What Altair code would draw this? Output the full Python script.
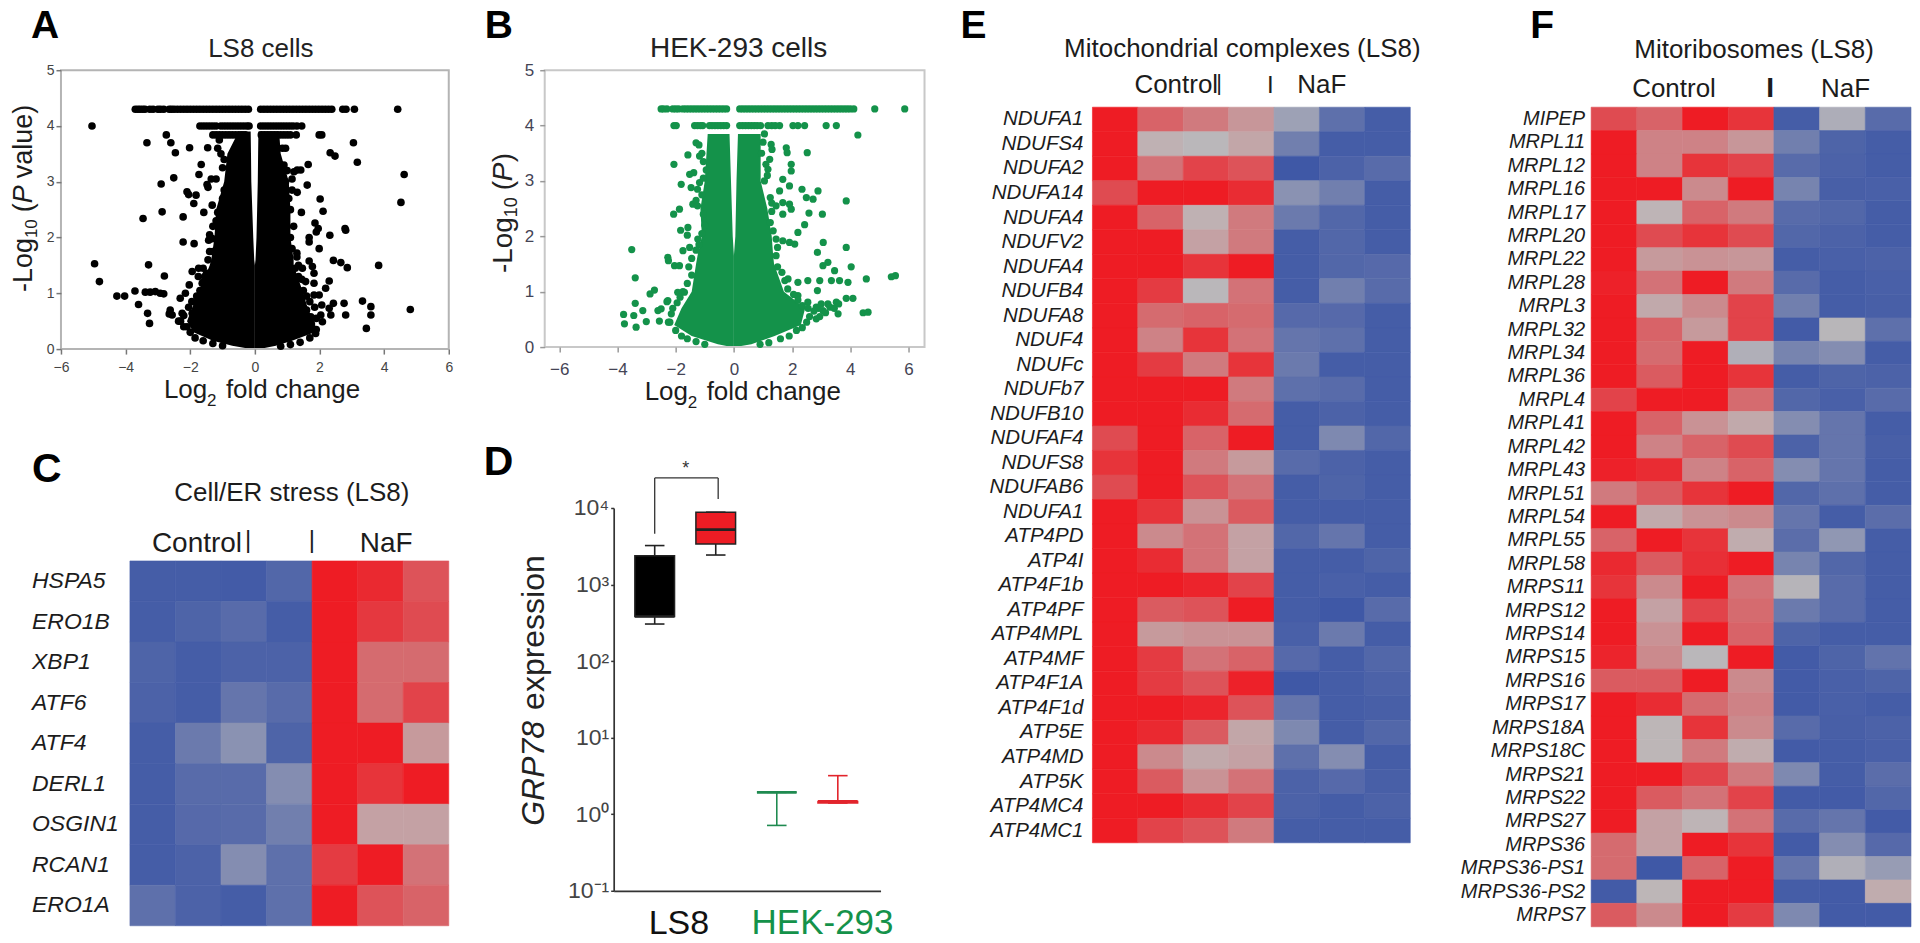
import altair as alt
import pandas as pd

FONT = "Liberation Sans"
TXT = "#1c1c1c"
BLACK = "#000000"
GREEN = "#14924a"
RED = "#ed1c24"

# ---------- Panel A: volcano (LS8) ----------
a_top_x = [-3.7,-3.62,-3.55,-3.47,-3.4,-3.25,-3.15,-3.0,-2.92,-2.82,-2.65,-2.58,-2.5,-2.4,-2.3,-2.2,-2.1,-2.0,-1.9,-1.8,-1.7,-1.6,-1.5,-1.4,-1.3,-1.2,-1.1,-1.0,-0.9,-0.8,-0.7,-0.6,-0.5,-0.4,-0.3,-0.2,
           0.18,0.28,0.38,0.48,0.58,0.68,0.78,0.88,0.98,1.08,1.18,1.28,1.38,1.48,1.58,1.68,1.78,1.88,1.98,2.08,2.18,2.28,2.38,2.72,2.82,3.08,4.42]
a_row4_x = [-5.04,-1.7,-1.6,-1.5,-1.4,-1.3,-1.2,-1.05,-0.95,-0.85,-0.75,-0.65,-0.55,-0.45,-0.35,-0.25,-0.18,
            0.18,0.28,0.38,0.48,0.58,0.68,0.78,0.88,0.98,1.08,1.18,1.3,1.45]
a_row38_x = [-2.74,-1.3,-1.2,-1.1,-1.0,-0.9,-0.8,-0.7,-0.6,-0.5,-0.4,-0.3,0.2,0.3,0.4,0.5,0.6,0.7,0.8,0.9,1.0,1.1,1.28,1.99,2.07]
a_px = [-3.34,-2.6,-2.46,-2.02,-1.46,-1.66,-1.73,-2.51,-2.9,-1.48,-2.1,-2.05,-1.82,-1.89,-1.32,-1.58,-2.87,-3.46,-2.22,-2.22,-1.88,-1.43,-1.32,
        -4.96,-4.81,-3.29,-2.8,-3.71,-4.27,-4.03,-3.39,-3.24,-3.08,-2.93,-2.82,-3.6,-3.32,-3.26,-2.62,-2.65,-2.56,-2.36,-2.31,-2.15,-2.03,-1.94,-1.74,-1.63,-1.48,-1.74,-2.25,-2.1,-1.94,
        -1.1,-1.15,-1.05,-0.95,-1.0,-1.2,-1.35,-1.45,-0.95,-1.0,-1.15,-1.2,-1.3,-1.4,-1.3,-1.4,-1.45,-1.5,-1.6,-1.55,
        3.05,3.17,4.62,4.52,2.33,2.48,1.65,1.62,1.31,1.42,1.21,1.31,2.02,2.11,1.44,1.86,1.96,1.9,2.79,2.81,2.32,1.68,1.68,1.99,2.43,2.66,2.86,3.83,1.68,1.78,1.83,1.47,2.3,2.19,1.83,1.83,1.99,1.57,
        3.33,2.76,3.59,3.59,2.81,4.81,3.45,2.43,2.07,2.3,2.04,2.35,2.09,1.88,1.73,1.78,
        0.85,0.95,0.9,1.0,0.95,1.15,1.15,1.05,1.1,1.2,1.1,1.15,1.3,1.25,1.35,1.3,1.45,1.6,1.7,1.5,
        -1.7,-1.8,-1.95,-2.05,-2.2,-2.3,-2.2,-2.0,-1.85,-1.6,-1.3,-1.0,-1.55,-1.6,-1.75,
        1.5,1.6,1.7,1.85,1.9,1.75,1.9,1.7,1.4,1.1,0.8,1.35,1.45,1.3]
a_py = [3.70,3.70,3.52,3.61,3.61,3.31,3.13,3.07,2.96,2.95,2.82,2.77,2.76,2.61,2.58,2.45,2.46,2.34,2.37,1.92,1.89,1.95,1.98,
        1.53,1.21,1.51,1.31,1.04,0.95,0.95,1.02,1.02,1.03,1.0,0.99,0.8,0.64,0.46,0.7,0.63,0.61,0.5,0.91,1.0,1.15,1.39,1.45,1.18,1.36,0.88,0.64,0.4,0.64,
        3.75,3.6,3.5,3.4,3.25,3.05,3.05,2.9,2.85,2.7,2.45,2.3,2.2,2.05,1.75,1.75,1.6,1.35,1.2,1.1,
        3.70,3.35,3.13,2.63,3.52,3.46,3.31,2.94,3.21,3.21,3.18,2.81,2.69,2.47,2.45,2.26,2.16,2.1,2.16,2.13,2.04,2.0,1.92,1.8,1.59,1.55,1.46,1.5,1.58,1.48,1.36,1.45,1.22,1.09,1.18,0.97,0.97,1.21,
        0.86,0.82,0.76,0.61,0.61,0.71,0.37,0.82,0.79,0.73,0.61,0.61,0.49,0.28,0.58,0.37,
        3.6,3.6,3.3,3.2,3.0,3.05,2.85,2.7,2.5,2.2,2.0,1.8,1.72,1.45,1.3,1.1,0.9,0.7,0.5,0.4,
        1.05,0.95,0.85,0.75,0.6,0.5,0.4,0.3,0.2,0.15,0.1,0.06,1.3,1.45,1.3,
        1.05,0.95,0.85,0.75,0.55,0.45,0.35,0.2,0.12,0.08,0.05,1.5,1.25,1.65]
a_env_y  = [0.02,0.06,0.15,0.3,0.5,0.8,1.0,1.5,1.6,2.0,2.5,3.0,3.5,3.9]
a_env_lo = [-0.3,-0.7,-1.3,-1.9,-2.1,-1.9,-1.75,-1.4,-1.35,-1.25,-1.2,-0.95,-0.85,-0.5]
a_env_li = [0.0,0.0,0.0,0.0,0.0,0.0,0.0,0.0,-0.02,-0.05,-0.08,-0.11,-0.12,-0.13]
a_env_ri = [0.0,0.0,0.0,0.0,0.0,0.0,0.0,0.0,0.02,0.05,0.07,0.09,0.1,0.11]
a_env_ro = [0.3,0.65,1.15,1.85,1.8,1.6,1.5,1.2,1.2,1.1,1.1,1.05,0.8,0.75]

# ---------- Panel B: volcano (HEK-293) ----------
b_top_x = [-2.5,-2.42,-2.3,-2.1,-2.0,-1.9,-1.75,-1.65,-1.55,-1.45,-1.35,-1.25,-1.15,-1.05,-0.95,-0.85,-0.75,-0.65,-0.55,-0.45,-0.35,-0.25,
           0.2,0.3,0.4,0.5,0.6,0.7,0.8,0.9,1.0,1.1,1.2,1.3,1.4,1.5,1.6,1.7,1.8,1.9,2.0,2.1,2.2,2.3,2.4,2.5,2.6,2.7,2.8,2.9,3.0,3.1,3.2,3.3,3.4,3.5,3.6,3.7,3.8,3.9,4.0,4.12,4.84,5.87]
b_row4_x = [-2.06,-1.98,-1.35,-1.25,-1.15,-1.07,-0.84,-0.75,-0.65,-0.55,-0.45,-0.35,-0.25,
            0.2,0.3,0.4,0.5,0.6,0.7,0.8,0.92,1.17,1.3,1.42,1.57,2.03,2.2,2.43,3.17,3.52]
b_px = [4.26,-3.51,-3.39,-2.88,-2.73,-3.39,-3.13,-3.79,-3.44,-3.76,-3.01,-3.36,-2.56,-2.61,-2.5,-2.27,-2.25,-2.04,-1.87,-2.25,-2.27,-1.93,-1.7,-2.06,-1.58,-1.3,-1.18,-1.52,-1.38,-1.81,-1.47,-1.18,-1.87,-2.07,-1.41,-1.83,-1.58,-1.6,-1.24,-1.75,-1.52,
        1.28,1.31,1.8,1.83,2.52,1.97,1.97,1.23,1.17,1.68,1.57,1.91,2.34,2.89,2.49,2.72,3.86,1.68,1.91,1.97,1.68,2.58,3.04,2.43,2.2,3.07,1.68,1.91,2.09,3.86,2.87,3.23,3.06,4.03,3.46,5.41,5.55,4.55,3.35,3.63,3.92,2.54,2.95,2.2,1.86,2.87,3.86,4.09,2.83,3.23,3.52,3.58,4.44,4.61,2.83,2.54,2.2,3.06,
        -1.2,-1.1,-1.05,-0.95,-1.05,-1.25,-1.1,-1.3,-1.25,-1.05,-1.0,-1.1,-1.2,-1.3,-1.45,-1.55,-1.45,-1.6,-1.75,-1.85,-1.95,-2.1,-2.3,-2.15,-2.2,-2.0,-1.8,-1.6,-1.3,-1.0,
        1.0,1.05,0.95,1.1,1.15,1.05,1.25,1.3,1.45,1.3,1.25,1.35,1.45,1.5,1.45,1.5,1.65,1.75,1.85,2.05,2.2,2.35,2.55,2.6,2.5,2.35,2.15,1.9,1.6,1.2,0.9,
        2.75,2.9,3.0,3.15,3.3,3.45,3.6,2.95]
b_py = [3.83,1.76,1.25,0.96,1.03,0.79,0.66,0.59,0.57,0.42,0.46,0.36,0.47,0.66,0.69,1.62,1.56,1.47,1.47,0.45,0.84,0.99,0.99,3.3,3.47,3.69,3.45,3.12,3.15,2.94,2.88,2.97,2.49,2.4,2.58,2.11,2.16,2.02,1.95,1.74,1.8,
        3.66,3.57,3.6,3.51,3.51,3.3,3.18,3.39,3.21,3.03,2.82,2.91,2.85,2.82,2.7,2.67,2.64,2.61,2.58,2.49,2.4,2.42,2.4,2.21,2.07,1.89,1.92,1.89,1.86,1.8,1.71,1.53,1.47,1.45,1.38,1.27,1.29,1.23,1.2,1.2,1.17,1.2,1.2,1.17,1.23,1.02,0.88,0.88,0.72,0.78,0.81,0.6,0.62,0.63,0.51,0.81,0.93,0.66,
        3.65,3.5,3.35,3.2,3.05,2.85,2.75,2.65,2.55,2.4,2.2,2.05,1.85,1.75,1.6,1.45,1.3,1.15,1.0,0.9,0.8,0.7,0.82,0.6,0.45,0.3,0.2,0.15,0.1,0.05,
        3.7,3.85,3.5,3.3,3.1,3.0,2.7,2.6,2.55,2.45,2.25,2.1,1.95,1.8,1.65,1.45,1.35,1.2,1.05,0.95,0.85,0.75,0.7,0.55,0.45,0.35,0.3,0.2,0.15,0.08,0.05,
        0.65,0.7,0.78,0.62,0.72,0.7,0.78,0.55]
b_env_y  = [0.02,0.05,0.2,0.4,0.7,1.0,1.5,1.65,2.0,2.5,3.0,3.85]
b_env_lo = [-0.25,-0.55,-1.45,-2.05,-1.8,-1.45,-1.3,-1.25,-1.1,-1.15,-1.0,-0.9]
b_env_li = [0.0,0.0,0.0,0.0,0.0,0.0,0.0,0.0,-0.04,-0.07,-0.1,-0.15]
b_env_ri = [0.0,0.0,0.0,0.0,0.0,0.0,0.0,0.0,0.05,0.07,0.09,0.14]
b_env_ro = [0.25,0.6,1.4,2.3,2.45,1.72,1.38,1.35,1.3,1.15,0.92,0.92]

# ---------- Panel C ----------
c_genes = ["HSPA5","ERO1B","XBP1","ATF6","ATF4","DERL1","OSGIN1","RCAN1","ERO1A"]
c_vals = [
 [-.95,-.95,-.97,-.85,1,.92,.65],
 [-.95,-.88,-.8,-.95,1,.82,.7],
 [-.88,-.95,-.9,-.9,1,.5,.5],
 [-.9,-.95,-.7,-.8,1,.5,.75],
 [-.95,-.65,-.4,-.88,1,1,.2],
 [-.95,-.8,-.8,-.45,1,.85,1],
 [-.95,-.82,-.8,-.6,1,.15,.15],
 [-.95,-.9,-.45,-.75,.8,1,.45],
 [-.75,-.9,-.95,-.75,1,.65,.55],
]

# ---------- Panel D ----------
d_pos = [1.0, 2.0, 3.0, 4.0]
d_q1 = [382, 3390, 1.93, 1.40]
d_q3 = [2380, 8780, 1.93, 1.47]
d_med = [382, 5210, 1.93, 1.47]
d_lo = [305, 2430, 0.714, 1.40]
d_hi = [3230, 8800, 1.93, 3.19]
d_fill = [BLACK, RED, GREEN, RED]
d_line = ["#222222", "#222222", "#1f8a50", "#e2242c"]
d_ticks = [0.1, 1, 10, 100, 1000, 10000]
d_br_x = [1.0, 2.04]
d_br_y = [4620, 24660, 13120]

# ---------- Panel E ----------
e_genes = ["NDUFA1","NDUFS4","NDUFA2","NDUFA14","NDUFA4","NDUFV2","NDUFA4","NDUFB4","NDUFA8","NDUF4","NDUFc","NDUFb7","NDUFB10","NDUFAF4","NDUFS8","NDUFAB6","NDUFA1","ATP4PD","ATP4I","ATP4F1b","ATP4PF","ATP4MPL","ATP4MF","ATP4F1A","ATP4F1d","ATP5E","ATP4MD","ATP5K","ATP4MC4","ATP4MC1"]
e_vals = [
 [1,.55,.4,.22,-.25,-.75,-.95],
 [1,.05,-.02,.12,-.6,-.95,-.95],
 [1,.45,.75,.65,-1,-.9,-.8],
 [.7,1,1,.9,-.4,-.6,-.95],
 [1,.55,.05,.4,-.65,-.85,-.95],
 [1,1,.15,.4,-.95,-.85,-.95],
 [1,1,.85,1,-.95,-.85,-.82],
 [1,.8,-.02,.45,-.95,-.6,-.8],
 [1,.5,.55,.5,-.82,-.82,-.95],
 [1,.35,.85,.45,-.7,-.75,-.95],
 [1,.8,.4,.85,-.65,-.95,-.95],
 [1,1,1,.4,-.75,-.8,-.95],
 [1,1,.9,.5,-.95,-.9,-.95],
 [.7,1,.55,1,-.95,-.5,-.85],
 [.85,1,.4,.2,-.8,-.9,-.95],
 [.7,1,.65,.45,-.95,-.88,-.95],
 [1,.85,.25,.6,-.95,-.95,-.95],
 [1,.3,.45,.15,-.85,-.7,-.95],
 [1,.9,.45,.15,-.95,-.95,-.88],
 [1,1,.95,.75,-.95,-.92,-.95],
 [1,.6,.65,1,-.95,-1,-.8],
 [1,.2,.25,.25,-.92,-.65,-.95],
 [1,.8,.45,.55,-.82,-.95,-.85],
 [1,.8,.65,.97,-1,-.95,-.9],
 [1,1,.95,.65,-.7,-.95,-.93],
 [1,.92,.6,.12,-.5,-.95,-.85],
 [1,.3,.1,.15,-.75,-.45,-.95],
 [1,.6,.25,.45,-.9,-.82,-.93],
 [1,1,.9,.75,-.9,-.95,-.9],
 [1,.75,.65,.4,-.95,-.95,-.95],
]

# ---------- Panel F ----------
f_genes = ["MIPEP","MRPL11","MRPL12","MRPL16","MRPL17","MRPL20","MRPL22","MRPL28","MRPL3","MRPL32","MRPL34","MRPL36","MRPL4","MRPL41","MRPL42","MRPL43","MRPL51","MRPL54","MRPL55","MRPL58","MRPS11","MRPS12","MRPS14","MRPS15","MRPS16","MRPS17","MRPS18A","MRPS18C","MRPS21","MRPS22","MRPS27","MRPS36","MRPS36-PS1","MRPS36-PS2","MRPS7"]
f_vals = [
 [.7,.55,1,.85,-.95,-.12,-.8],
 [1,.35,.35,.22,-.6,-.88,-.95],
 [1,.35,.85,.75,-.8,-.9,-.95],
 [1,1,.3,1,-.55,-.93,-.92],
 [1,.03,.55,.4,-.8,-.85,-.95],
 [1,.7,.85,.7,-.85,-.9,-.95],
 [1,.2,.25,.22,-.95,-.92,-.9],
 [.97,.45,1,.4,-.8,-.95,-.92],
 [1,.1,.3,.75,-.6,-.95,-.93],
 [1,.55,.2,.75,-.97,-.03,-.75],
 [1,.5,1,-.1,-.55,-.45,-.95],
 [1,.6,1,.85,-.95,-.88,-.9],
 [.75,1,1,.5,-.85,-.92,-.8],
 [1,.55,.25,.1,-.45,-.7,-.95],
 [1,.35,.55,.7,-.9,-.7,-.93],
 [.97,.9,.35,.55,-.45,-.7,-.95],
 [.4,.6,.85,1,-.85,-.75,-.95],
 [1,.1,.25,.3,-.7,-.95,-.78],
 [.55,1,.85,.08,-.78,-.35,-.95],
 [.92,.6,.88,1,-.55,-.85,-.95],
 [.85,.3,1,.45,-.05,-.8,-.95],
 [1,.15,.75,.5,-.65,-.8,-.95],
 [1,.25,1,.55,-.88,-.95,-.95],
 [.95,.3,-.02,1,-.97,-.88,-.72],
 [.6,.6,1,.3,-.97,-.92,-.88],
 [1,.9,.5,.35,-.97,-.92,-.95],
 [1,.02,.85,.3,-.8,-.93,-.9],
 [1,.02,.4,.08,-.97,-.95,-.92],
 [1,1,.75,.4,-.5,-.95,-.78],
 [1,.6,.45,.75,-.97,-.97,-.85],
 [1,.15,.03,.45,-.8,-.7,-.97],
 [.5,.15,1,.85,-.97,-.45,-.82],
 [.5,-1,.55,1,-.7,-.1,-.3],
 [-.97,.02,1,1,-.95,-.97,.08],
 [.6,.3,1,.8,-.5,-.97,-.97],
]

# panel origins on the page
OA = (62, 70); OC = (62, 508); OB = (546, 70); OD = (546, 508); OE = (954, 70); OF = (1440, 70)


def txt(o, x, y, s, size=26, color=TXT, angle=0, style="normal", weight="normal", align="left"):
    return alt.Chart(pd.DataFrame({"t": [s]})).mark_text(
        font=FONT, fontSize=size, color=color, angle=angle, fontStyle=style, fontWeight=weight,
        align=align, baseline="alphabetic",
    ).encode(x=alt.value(x - o[0]), y=alt.value(y - o[1]), text="t:N")


def volcano(env, pts, color, size, x_dom, xvals, tick_c, lab_c, lab_size, lab_pad):
    sx = alt.Scale(domain=x_dom, nice=False, zero=False)
    sy = alt.Scale(domain=[0, 5], nice=False)
    xax = alt.Axis(values=xvals, title=None, grid=False, domain=False, tickColor=tick_c, tickSize=5, tickWidth=1.5,
                   labelColor=lab_c, labelFontSize=lab_size, labelFont=FONT, labelPadding=lab_pad,
                   labelFlush=False, labelExpr="datum.value % 2 == 0 ? datum.label : ''")
    yax = alt.Axis(values=[0, 1, 2, 3, 4, 5], title=None, grid=False, domain=False, tickColor=tick_c, tickSize=5, tickWidth=1.5,
                   labelColor=lab_c, labelFontSize=lab_size, labelFont=FONT, labelPadding=lab_pad - 3 if lab_pad > 6 else 2)
    envdf = pd.DataFrame(env)
    ptsdf = pd.DataFrame(pts)
    left = alt.Chart(envdf).mark_area(orient="horizontal", color=color, interpolate="linear").encode(
        y=alt.Y("y:Q", scale=sy, axis=yax), x=alt.X("lo:Q", scale=sx, axis=xax), x2="li:Q")
    right = alt.Chart(envdf).mark_area(orient="horizontal", color=color, interpolate="linear").encode(
        y=alt.Y("y:Q", scale=sy), x=alt.X("ri:Q", scale=sx), x2="ro:Q")
    dots = alt.Chart(ptsdf).mark_circle(color=color, opacity=1, size=size).encode(
        x=alt.X("x:Q", scale=sx), y=alt.Y("y:Q", scale=sy))
    return [left, right, dots]


def heat(genes, vals, xr, yr, lab_x, lab_align, lab_size):
    rows = [{"r": i, "c": j, "v": v} for i, row in enumerate(vals) for j, v in enumerate(row)]
    sx = alt.Scale(range=xr, paddingInner=0, paddingOuter=0)
    sy = alt.Scale(range=yr, paddingInner=0, paddingOuter=0)
    hs = alt.Scale(domain=[-1, 0, 1], range=["#3f58a6", "#bcb9ba", "#ee1c24"], interpolate="rgb")
    rects = alt.Chart(pd.DataFrame(rows)).mark_rect(strokeWidth=0.6).encode(
        x=alt.X("c:O", scale=sx, axis=None),
        y=alt.Y("r:O", scale=sy, axis=None),
        color=alt.Color("v:Q", legend=None, scale=hs),
        stroke=alt.Stroke("v:Q", legend=None, scale=hs),
    )
    labs = alt.Chart(pd.DataFrame({"r": list(range(len(genes))), "g": genes})).mark_text(
        font=FONT, fontSize=lab_size, fontStyle="italic", color=TXT, align=lab_align, baseline="middle",
    ).encode(x=alt.value(lab_x), y=alt.Y("r:O", scale=sy, axis=None), text="g:N")
    return [rects, labs]


# ---------- A ----------
a_x = a_top_x + a_row4_x + a_row38_x + a_px
a_y = [4.3] * len(a_top_x) + [4.0] * len(a_row4_x) + [3.84] * len(a_row38_x) + a_py
A = alt.layer(
    *volcano({"y": a_env_y, "lo": a_env_lo, "li": a_env_li, "ri": a_env_ri, "ro": a_env_ro}, {"x": a_x, "y": a_y},
             BLACK, 58, [-6, 6], [-6,-5,-4,-3,-2,-1,0,1,2,3,4,5,6], "#777777", "#444444", 14, 6),
    txt(OA, 32, 38, "A", 39, BLACK, weight="bold"),
    txt(OA, 262, 57, "LS8 cells", 26, "#222222", align="center"),
    txt(OA, 165, 398, "Log", 26), txt(OA, 208, 406, "2", 17), txt(OA, 227, 398, "fold change", 26),
    txt(OA, 33, 292, "-Log", 27, angle=270), txt(OA, 38, 238, "10", 17, angle=270),
    txt(OA, 33, 212, "(", 27, angle=270), txt(OA, 33, 203, "P", 27, angle=270, style="italic"),
    txt(OA, 33, 178, "value)", 27, angle=270),
).properties(width=388, height=279, view=alt.ViewConfig(stroke="#b4b4b4", strokeWidth=2))

# ---------- B ----------
b_x = b_top_x + b_row4_x + b_px
b_y = [4.3] * len(b_top_x) + [4.0] * len(b_row4_x) + b_py
B = alt.layer(
    *volcano({"y": b_env_y, "lo": b_env_lo, "li": b_env_li, "ri": b_env_ri, "ro": b_env_ro}, {"x": b_x, "y": b_y},
             GREEN, 52, [-6.5, 6.55], [-6,-4,-2,0,2,4,6], "#999999", "#444455", 17, 9),
    txt(OB, 486, 38, "B", 39, BLACK, weight="bold"),
    txt(OB, 740, 57, "HEK-293 cells", 28, "#222222", align="center"),
    txt(OB, 646, 400, "Log", 26), txt(OB, 689, 408, "2", 17), txt(OB, 708, 400, "fold change", 26),
    txt(OB, 513, 273, "-Log", 28, "#222222", angle=270), txt(OB, 518, 217, "10", 18, "#222222", angle=270),
    txt(OB, 513, 190, "(", 28, "#222222", angle=270), txt(OB, 513, 181, "P", 28, "#222222", angle=270, style="italic"),
    txt(OB, 513, 162, ")", 28, "#222222", angle=270),
).properties(width=380, height=277, view=alt.ViewConfig(stroke="#c8c8c8", strokeWidth=2))

# ---------- C ----------
C = alt.layer(
    *heat(c_genes, c_vals, [69, 388], [53, 418], 33 - OC[0], "left", 23),
    txt(OC, 33, 482, "C", 41, BLACK, weight="bold"),
    txt(OC, 293, 501, "Cell/ER stress (LS8)", 26, align="center"),
    txt(OC, 153, 552, "Control", 28), txt(OC, 246, 548, "|", 24), txt(OC, 310, 548, "|", 24),
    txt(OC, 361, 552, "NaF", 28),
).properties(width=456, height=418)

# ---------- D ----------
sxd = alt.Scale(domain=[0.328, 4.70], range=[69, 336], nice=False, zero=False)
syd = alt.Scale(type="log", domain=[0.1, 10000], nice=False)
ddf = pd.DataFrame({"p": d_pos, "q1": d_q1, "q3": d_q3, "med": d_med, "lo": d_lo, "hi": d_hi, "fill": d_fill, "line": d_line})
ddf["l"] = ddf["p"] - 0.325; ddf["r"] = ddf["p"] + 0.325
ddf["cl"] = ddf["p"] - 0.16; ddf["cr"] = ddf["p"] + 0.16
d_label = ("datum.value==10000?'10⁴':datum.value==1000?'10³':datum.value==100?'10²':"
           "datum.value==10?'10¹':datum.value==1?'10⁰':'10⁻¹'")
whisk = alt.Chart(ddf).mark_rule(strokeWidth=1.6).encode(
    x=alt.X("p:Q", scale=sxd, axis=alt.Axis(labels=False, ticks=False, title=None, grid=False, domainColor="#333333", domainWidth=1.7)),
    y=alt.Y("lo:Q", scale=syd, axis=alt.Axis(values=d_ticks, title=None, grid=False, offset=-69, domainColor="#333333", domainWidth=1.7,
                                             tickColor="#333333", tickSize=3, tickWidth=1.5, labelFont=FONT, labelFontSize=23,
                                             labelColor="#444444", labelPadding=2, labelExpr=d_label)),
    y2="hi:Q", color=alt.Color("line:N", scale=None))
capl = alt.Chart(ddf).mark_rule(strokeWidth=1.6).encode(
    x=alt.X("cl:Q", scale=sxd), x2="cr:Q", y=alt.Y("lo:Q", scale=syd), color=alt.Color("line:N", scale=None))
caph = alt.Chart(ddf).mark_rule(strokeWidth=1.6).encode(
    x=alt.X("cl:Q", scale=sxd), x2="cr:Q", y=alt.Y("hi:Q", scale=syd), color=alt.Color("line:N", scale=None))
boxes = alt.Chart(ddf).mark_rect(strokeWidth=1.5).encode(
    x=alt.X("l:Q", scale=sxd), x2="r:Q", y=alt.Y("q1:Q", scale=syd), y2="q3:Q",
    fill=alt.Fill("fill:N", scale=None), stroke=alt.Stroke("line:N", scale=None))
meds = alt.Chart(ddf).mark_rule(strokeWidth=2.6).encode(
    x=alt.X("l:Q", scale=sxd), x2="r:Q", y=alt.Y("med:Q", scale=syd), color=alt.Color("line:N", scale=None))
br_df = pd.DataFrame({"x": [d_br_x[0], d_br_x[1]], "y": [d_br_y[0], d_br_y[2]], "top": [d_br_y[1], d_br_y[1]]})
br_v = alt.Chart(br_df).mark_rule(strokeWidth=1.3, color="#333333").encode(
    x=alt.X("x:Q", scale=sxd), y=alt.Y("y:Q", scale=syd), y2="top:Q")
br_h = alt.Chart(pd.DataFrame({"a": [d_br_x[0]], "b": [d_br_x[1]], "t": [d_br_y[1]]})).mark_rule(strokeWidth=1.3, color="#333333").encode(
    x=alt.X("a:Q", scale=sxd), x2="b:Q", y=alt.Y("t:Q", scale=syd))
D = alt.layer(
    whisk, capl, caph, boxes, meds, br_v, br_h,
    txt(OD, 485, 475, "D", 41, BLACK, weight="bold"),
    txt(OD, 687, 474, "*", 18, "#333333", align="center"),
    txt(OD, 545, 826, "GRP78", 32, "#222222", angle=270, style="italic"),
    txt(OD, 545, 710, "expression", 32, "#222222", angle=270),
    txt(OD, 650, 934, "LS8", 34, "#111111"),
    txt(OD, 753, 934, "HEK-293", 35, GREEN),
).properties(width=380, height=383)

# ---------- E ----------
E = alt.layer(
    *heat(e_genes, e_vals, [140, 458], [37, 773], 1085 - OE[0], "right", 20.5),
    txt(OE, 962, 38, "E", 39, BLACK, weight="bold"),
    txt(OE, 1244, 57, "Mitochondrial complexes (LS8)", 26, align="center"),
    txt(OE, 1136, 93, "Control", 26), txt(OE, 1218, 90, "|", 22), txt(OE, 1272, 93, "I", 24, align="center"),
    txt(OE, 1299, 93, "NaF", 26),
).properties(width=458, height=279)

# ---------- F ----------
F = alt.layer(
    *heat(f_genes, f_vals, [153, 473], [37, 857], 1587 - OF[0], "right", 20),
    txt(OF, 1532, 38, "F", 39, BLACK, weight="bold"),
    txt(OF, 1756, 58, "Mitoribosomes (LS8)", 26, align="center"),
    txt(OF, 1634, 97, "Control", 26), txt(OF, 1772, 97, "I", 28, align="center", weight="bold"),
    txt(OF, 1823, 97, "NaF", 26),
).properties(width=473, height=279)

chart = alt.concat(A, B, E, F, C, D, columns=4, spacing={"row": 159, "column": 28}, bounds="flush").properties(
    padding={"left": 0, "top": -2, "right": 0, "bottom": 0}
).configure_view(strokeWidth=0)

chart.save("out.html", embed_options={"renderer": "svg", "actions": False})
